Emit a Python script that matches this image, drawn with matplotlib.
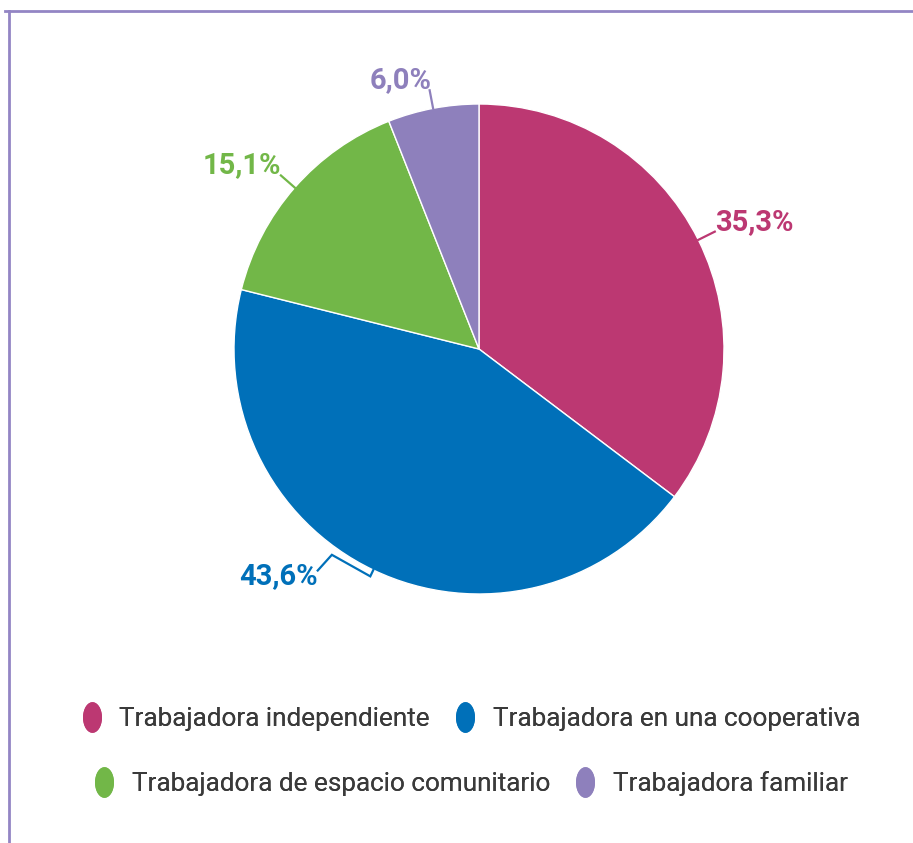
import matplotlib.pyplot as plt
import numpy as np
from matplotlib.lines import Line2D
from matplotlib.path import Path

# data
categories = ['Trabajadora independiente', 'Trabajadora en una cooperativa',
              'Trabajadora de espacio comunitario', 'Trabajadora familiar']
shares = [35.3, 43.6, 15.1, 6.0]
share_labels = ['35,3%', '43,6%', '15,1%', '6,0%']
colors = ['#bc3872', '#0070b9', '#72b748', '#8e80bc']

plt.rcParams['font.family'] = ['Roboto', 'DejaVu Sans']

W, H = 913, 843
fig = plt.figure(figsize=(W / 100, H / 100), dpi=100)
ax = fig.add_axes([0, 0, 1, 1])

cx, cy, r = 479, H - 349, 245
wedges, _ = ax.pie(shares, colors=colors, startangle=90, counterclock=False,
                   center=(cx, cy), radius=r,
                   wedgeprops=dict(edgecolor='white', linewidth=1))
ax.set_xlim(0, W)
ax.set_ylim(0, H)
ax.set_aspect('equal')
ax.axis('off')


def polar(ang, rad):
    a = np.deg2rad(ang)
    return cx + rad * np.cos(a), cy + rad * np.sin(a)


# label style per slice: (ha, text offset x, text offset y)
label_style = [('left', 0, 2), None, ('right', 0, 2), ('right', 2, 2)]
lc = 1.6
fs_pct = 21
for w, lab, col, st in zip(wedges, share_labels, colors, label_style):
    mid = (w.theta1 + w.theta2) / 2
    if st is None:
        # bracket style leader
        angs = [mid, mid, mid - 10, mid - 10.5]
        rads = [r, r + 7, r + 8, r + 29]
        pts = [polar(a, rr) for a, rr in zip(angs, rads)]
        ax.plot([p[0] for p in pts], [p[1] for p in pts], color=col, lw=lc,
                solid_joinstyle='miter')
        ex, ey = pts[-1]
        ax.text(ex, ey - 6, lab, color=col, fontsize=fs_pct, fontweight='bold',
                ha='right', va='center')
        continue
    x0, y0 = polar(mid, r)
    x1, y1 = polar(mid, r * 1.075)
    ax.plot([x0, x1], [y0, y1], color=col, lw=lc)
    ha, dx, dy = st
    ax.text(x1 + dx, y1 + dy, lab, color=col, fontsize=fs_pct,
            fontweight='bold', ha=ha, va='baseline')

# frame lines
fig.add_artist(Line2D([5 / W, 1], [1 - 10.5 / H, 1 - 10.5 / H],
                      transform=fig.transFigure, color='#9385c4', lw=2))
fig.add_artist(Line2D([9 / W, 9 / W], [0, 1 - 10.5 / H],
                      transform=fig.transFigure, color='#9385c4', lw=2))

# legend with oval markers
t = np.linspace(0, 2 * np.pi, 60)
oval = Path(np.column_stack([0.6 * np.cos(t), np.sin(t)]))


def handle(c):
    return Line2D([], [], marker=oval, linestyle='', markersize=21,
                  markerfacecolor=c, markeredgecolor=c)


rows = [(0, 1, 719), (2, 3, 784)]
for i, j, yy in rows:
    leg = fig.legend([handle(colors[i]), handle(colors[j])],
                     [categories[i], categories[j]], ncol=2, frameon=False,
                     loc='center', bbox_to_anchor=(470 / W, 1 - yy / H),
                     fontsize=18.8, handlelength=0.9, handletextpad=0.6,
                     columnspacing=0.9, labelcolor='#3a3a3a')
    fig.add_artist(leg)

fig.savefig('out.png', dpi=100)
